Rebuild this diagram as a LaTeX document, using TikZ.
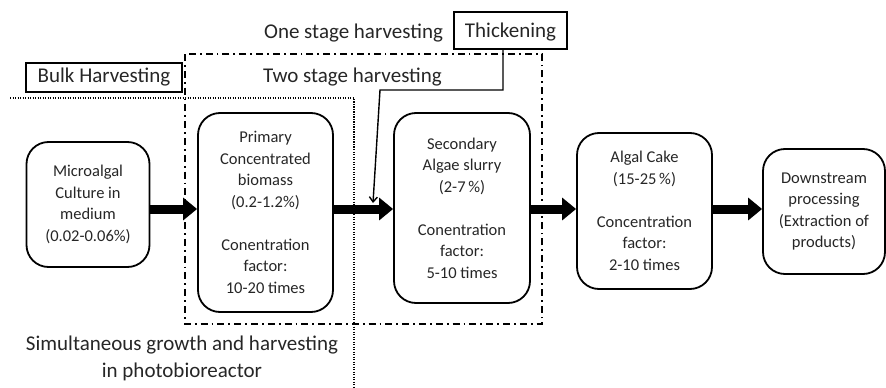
\documentclass[tikz,border=0pt]{standalone}
\usepackage{fontspec}
\setmainfont{Carlito}
\usetikzlibrary{arrows.meta}
\begin{document}
\begin{tikzpicture}[x=1pt,y=-1pt,
  stage/.style={draw, line width=1.8pt, rounded corners=22pt, align=center,
    font=\fontsize{16.5}{21.5}\selectfont, text=black!85, inner sep=0pt},
  bigarrow/.style={line width=9pt, -{Triangle[length=14pt,width=22pt]}},
  lbltext/.style={font=\fontsize{21}{27}\selectfont, text=black!85, inner sep=0pt},
  tagbox/.style={draw, line width=1.5pt, lbltext},
  dashdot/.style={line width=1.8pt, dash pattern=on 7pt off 4pt on 1.8pt off 4pt},
  dotline/.style={line width=1.8pt, dash pattern=on 1.2pt off 1.3pt},
  pointer/.style={line width=1.4pt, -{Straight Barb[length=5pt,width=8pt]}}
]
\useasboundingbox (0,0) rectangle (886,388);

% region outlines
\draw[dashdot] (185,54) rectangle (542,324);
\draw[dotline] (10,98) -- (354,98) -- (354,388);

% stage boxes
\node[stage, minimum width=123pt, minimum height=125pt] (micro) at (88,204.5)
  {Microalgal\\Culture in\\medium\\(0.02-0.06\%)};
\node[stage, minimum width=135pt, minimum height=199pt] (prim) at (265.5,212.5)
  {Primary\\Concentrated\\biomass\\(0.2-1.2\%)\\[21.5pt]Conentration\\factor:\\10-20 times};
\node[stage, minimum width=136pt, minimum height=190pt] (sec) at (462,208)
  {Secondary\\Algae slurry\\(2-7\,\%)\\[21.5pt]Conentration\\factor:\\5-10 times};
\node[stage, minimum width=135pt, minimum height=156pt] (cake) at (644.5,211)
  {Algal Cake\\(15-25\,\%)\\[21.5pt]Concentration\\factor:\\2-10 times};
\node[stage, minimum width=122pt, minimum height=125pt] (down) at (824,211.5)
  {Downstream\\processing\\(Extraction of\\products)};

% flow arrows
\draw[bigarrow] (micro.east |- 0,209) -- (prim.west |- 0,209);
\draw[bigarrow] (prim.east |- 0,209) -- (sec.west |- 0,209);
\draw[bigarrow] (sec.east |- 0,209) -- (cake.west |- 0,209);
\draw[bigarrow] (cake.east |- 0,209) -- (down.west |- 0,209);

% labels
\node[lbltext, anchor=base] (one) at (353.5,38) {One stage harvesting};
\node[lbltext, anchor=base] (two) at (352.5,82) {Two stage harvesting};
\node[tagbox, minimum width=113pt, minimum height=37pt, text height=13.5pt, text depth=0pt] (thick) at (510.5,30.5) {Thickening};
\node[tagbox, minimum width=156pt, minimum height=29pt] (bulk) at (104,77.5) {Bulk Harvesting};
\node[lbltext, align=center] (simul) at (182,358)
  {Simultaneous growth and harvesting\\in photobioreactor};

% thickening pointer
\coordinate (tip) at (373,203);
\draw[pointer] (thick.south -| 503,0) -- (503,90) -- (380,90) -- (tip);
\end{tikzpicture}
\end{document}
